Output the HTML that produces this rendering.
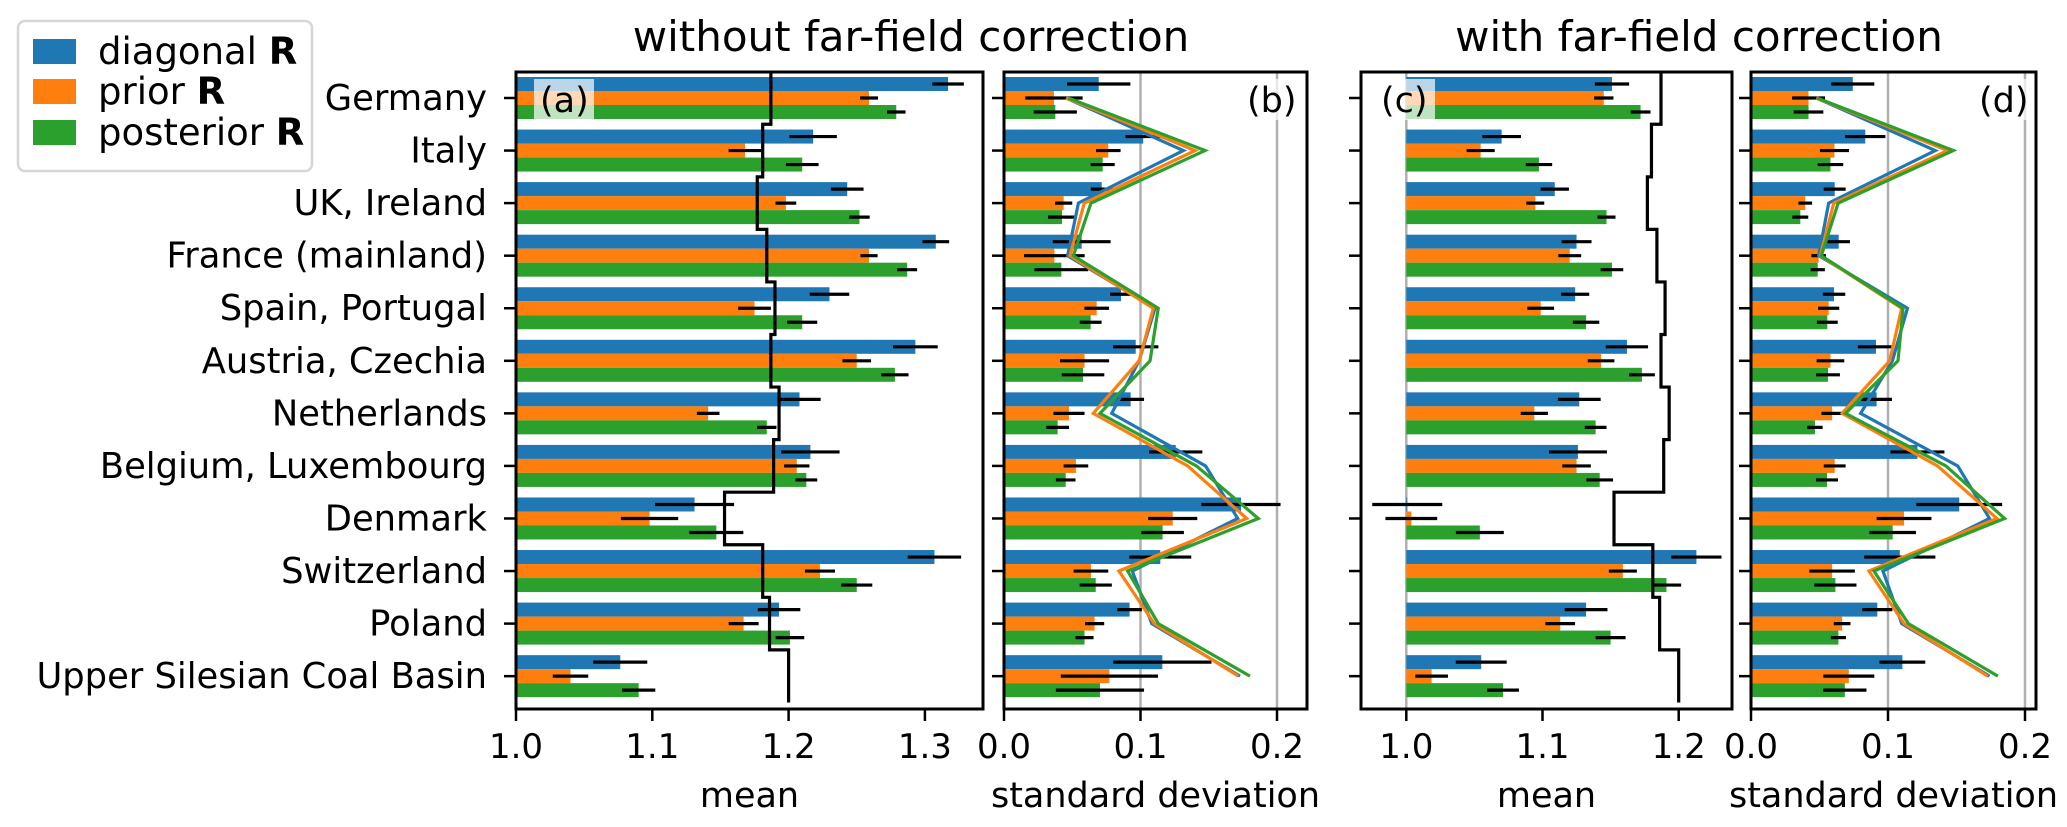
<!DOCTYPE html>
<html><head><meta charset="utf-8">
<style>
html,body{margin:0;padding:0;background:#fff;}
svg{display:block;font-family:"DejaVu Sans","Liberation Sans",sans-serif;}
</style></head>
<body>
<svg id="chart" width="2067" height="827" viewBox="0 0 2067 827" xmlns="http://www.w3.org/2000/svg">
  <rect x="0" y="0" width="2067" height="827" fill="#fff"/>
  <text x="911" y="51" font-size="42" text-anchor="middle">without far-field correction</text>
  <text x="1699" y="51" font-size="42" text-anchor="middle">with far-field correction</text>
  <g>
    <rect x="18" y="21" width="294" height="150" rx="7" fill="#fff" stroke="#d6d6d6" stroke-width="2.5"/>
    <rect x="33" y="39" width="43" height="25" fill="#1f77b4"/>
    <text x="98" y="64" font-size="37">diagonal <tspan font-weight="bold">R</tspan></text>
    <rect x="33" y="79" width="43" height="25" fill="#ff7f0e"/>
    <text x="98" y="104" font-size="37">prior <tspan font-weight="bold">R</tspan></text>
    <rect x="33" y="120" width="43" height="25" fill="#2ca02c"/>
    <text x="98" y="145" font-size="37">posterior <tspan font-weight="bold">R</tspan></text>
  </g>
</svg>
<script>
const categories = ["Germany","Italy","UK, Ireland","France (mainland)","Spain, Portugal","Austria, Czechia","Netherlands","Belgium, Luxembourg","Denmark","Switzerland","Poland","Upper Silesian Coal Basin"];
const seriesNames = ["diagonal","prior","posterior"];
const seriesColors = ["#1f77b4","#ff7f0e","#2ca02c"];

const meanA_diag = [1.317,1.218,1.243,1.308,1.230,1.293,1.208,1.216,1.131,1.307,1.193,1.0765];
const meanA_prior = [1.259,1.168,1.198,1.259,1.175,1.250,1.141,1.206,1.098,1.223,1.167,1.040];
const meanA_post = [1.279,1.210,1.252,1.287,1.210,1.278,1.184,1.213,1.147,1.250,1.201,1.090];
const errA_diag = [0.0116,0.0174,0.012,0.0098,0.0145,0.0164,0.0155,0.0214,0.029,0.0196,0.0156,0.0198];
const errA_prior = [0.0066,0.012,0.0076,0.0063,0.012,0.0105,0.0083,0.0093,0.021,0.011,0.011,0.013];
const errA_post = [0.0068,0.012,0.0075,0.0073,0.011,0.010,0.0071,0.008,0.0198,0.0114,0.0105,0.0122];
const stepA = [1.187,1.181,1.177,1.184,1.190,1.187,1.193,1.189,1.153,1.181,1.186,1.200];

const sdB_diag = [0.0694,0.102,0.0716,0.0569,0.0857,0.0965,0.0928,0.1258,0.1736,0.1145,0.092,0.116];
const sdB_prior = [0.0366,0.0764,0.0437,0.0369,0.0679,0.059,0.0476,0.0527,0.1236,0.0637,0.0664,0.0772];
const sdB_post = [0.0376,0.0723,0.0425,0.042,0.0635,0.0579,0.0393,0.0452,0.1162,0.0672,0.059,0.0703];
const errB_diag = [0.0232,0.013,0.008,0.0212,0.008,0.0166,0.0098,0.0195,0.029,0.0227,0.009,0.036];
const errB_prior = [0.021,0.009,0.0063,0.0222,0.009,0.018,0.0114,0.009,0.018,0.0127,0.007,0.0356];
const errB_post = [0.0158,0.0088,0.0103,0.0197,0.008,0.0156,0.0083,0.0072,0.0156,0.0118,0.0066,0.0323];
const lineB_diag = [0.0454,0.1314,0.0545,0.0466,0.1106,0.099,0.0789,0.1477,0.1712,0.094,0.1082,0.1729];
const lineB_prior = [0.0457,0.140,0.0588,0.0483,0.1094,0.099,0.0654,0.1346,0.1778,0.0842,0.1101,0.1717];
const lineB_post = [0.0471,0.1473,0.0637,0.0508,0.113,0.107,0.0703,0.141,0.1863,0.0906,0.113,0.1802];

const meanC_diag = [1.151,1.070,1.109,1.125,1.124,1.162,1.127,1.126,1.0007,1.213,1.132,1.055];
const meanC_prior = [1.145,1.0546,1.0947,1.120,1.0987,1.143,1.094,1.125,1.0037,1.159,1.113,1.0186];
const meanC_post = [1.172,1.0974,1.147,1.151,1.132,1.173,1.139,1.142,1.054,1.191,1.150,1.071];
const errC_diag = [0.0126,0.0142,0.0104,0.011,0.0103,0.0155,0.0157,0.0213,0.0257,0.0184,0.0157,0.0187];
const errC_prior = [0.0071,0.0103,0.0066,0.0084,0.0098,0.0098,0.010,0.0105,0.019,0.0103,0.0109,0.012];
const errC_post = [0.0073,0.0097,0.0066,0.0083,0.0097,0.0095,0.008,0.0098,0.0176,0.0108,0.011,0.0117];
const stepC = [1.187,1.180,1.177,1.184,1.190,1.187,1.193,1.189,1.1525,1.181,1.186,1.200];

const sdD_diag = [0.0743,0.0834,0.0611,0.064,0.0606,0.0912,0.0917,0.1215,0.152,0.1086,0.0922,0.1105];
const sdD_prior = [0.042,0.0609,0.0396,0.0494,0.0567,0.058,0.0592,0.0611,0.1117,0.0592,0.0665,0.0714];
const sdD_post = [0.042,0.058,0.036,0.0487,0.0557,0.0562,0.0467,0.0555,0.1034,0.0616,0.0638,0.0685];
const errD_diag = [0.0157,0.0147,0.008,0.0082,0.0082,0.0132,0.0112,0.0197,0.0313,0.026,0.011,0.0167];
const errD_prior = [0.012,0.0106,0.005,0.0053,0.0077,0.0101,0.0078,0.008,0.02,0.0166,0.0061,0.0186];
const errD_post = [0.0108,0.0093,0.0058,0.0052,0.0076,0.0087,0.0056,0.008,0.017,0.0154,0.0055,0.0158];
const lineD_diag = [0.0477,0.1345,0.0567,0.0494,0.1142,0.1032,0.0800,0.1509,0.1741,0.0963,0.1100,0.1741];
const lineD_prior = [0.0477,0.1435,0.0604,0.0506,0.1100,0.1012,0.0665,0.1362,0.1795,0.0861,0.1117,0.1729];
const lineD_post = [0.0482,0.1477,0.0636,0.0513,0.1110,0.1073,0.0690,0.1423,0.1851,0.0897,0.1149,0.1802];

const ticksA = [1.0,1.1,1.2,1.3];
const ticksB = [0.0,0.1,0.2];
const ticksC = [1.0,1.1,1.2];
const ticksD = [0.0,0.1,0.2];
const tickLabelsA = ["1.0","1.1","1.2","1.3"];
const tickLabelsB = ["0.0","0.1","0.2"];
const tickLabelsC = ["1.0","1.1","1.2"];
const tickLabelsD = ["0.0","0.1","0.2"];

const NS = "http://www.w3.org/2000/svg";
const svg = document.getElementById('chart');
const TOP = 72, BOTTOM = 709;
const Y0 = 98, DY = 52.56, BARH = 14.0;
function yCenter(i){ return Y0 + i*DY; }
function mk(tag, attrs, parent){
  const e = document.createElementNS(NS, tag);
  for (const k in attrs) e.setAttribute(k, attrs[k]);
  (parent||svg).appendChild(e);
  return e;
}

function panel(cfg){
  const g = mk('g', {});
  
  
  const xs = v => cfg.x0 + (v - cfg.v0) * cfg.scale;
  cfg.grid.forEach(gv => {
    const l = mk('line', {x1:xs(gv), x2:xs(gv), y1:TOP, y2:BOTTOM, stroke:'#b0b0b0', 'stroke-width':2.5}, g);
    
    
  });
  cfg.vals.forEach((arr, s) => {
    arr.forEach((v, i) => {
      const yc = yCenter(i) + (s-1)*BARH;
      const a = xs(cfg.base), b = xs(v);
      const r = mk('rect', {x:Math.min(a,b), y:yc-BARH/2, width:Math.abs(b-a), height:BARH, fill:seriesColors[s]}, g);
      
      
    });
  });
  if (cfg.step){
    let d = '';
    cfg.step.forEach((v, i) => {
      const x = xs(v), y1 = yCenter(i) - DY/2, y2 = yCenter(i) + DY/2;
      d += (i===0 ? 'M' : 'L') + x + ' ' + y1 + ' L' + x + ' ' + y2 + ' ';
    });
    const p = mk('path', {d:d, fill:'none', stroke:'#000', 'stroke-width':3.2}, g);
    
    
  }
  cfg.errs.forEach((arr, s) => {
    arr.forEach((e, i) => {
      const v = cfg.vals[s][i];
      const yc = yCenter(i) + (s-1)*BARH;
      const l = mk('line', {x1:xs(v-e), x2:xs(v+e), y1:yc, y2:yc, stroke:'#000', 'stroke-width':3.2}, g);
      
      
    });
  });
  if (cfg.lines){
    cfg.lines.forEach((arr, s) => {
      const pts = arr.map((v, i) => xs(v) + ',' + yCenter(i)).join(' ');
      const pl = mk('polyline', {points:pts, fill:'none', stroke:seriesColors[s], 'stroke-width':3.2, 'stroke-linejoin':'miter'}, g);
      
      
    });
  }
  const fr = mk('rect', {x:cfg.left, y:TOP, width:cfg.right-cfg.left, height:BOTTOM-TOP, fill:'none', stroke:'#000', 'stroke-width':3}, g);
  
  
  categories.forEach((c, i) => {
    const t = mk('line', {x1:cfg.left-12, x2:cfg.left, y1:yCenter(i), y2:yCenter(i), stroke:'#000', 'stroke-width':2.5}, g);
    
    
  });
  cfg.ticks.forEach((tv, k) => {
    const x = xs(tv);
    const t = mk('line', {x1:x, x2:x, y1:BOTTOM, y2:BOTTOM+12, stroke:'#000', 'stroke-width':2.5}, g);
    
    
    const tl = mk('text', {x:x, y:758, 'font-size':34, 'text-anchor':'middle'}, g);
    tl.textContent = cfg.tickLabels[k];
    
    
  });
  const xl = mk('text', {x:(cfg.left+cfg.right)/2, y:807, 'font-size':35, 'text-anchor':'middle'}, g);
  xl.textContent = cfg.xlabel;
  
  
  const bx = cfg.letterX;
  const br = mk('rect', {x:bx-6, y:79, width:60, height:41, fill:'#fff', 'fill-opacity':0.7}, g);
  
  
  const lt = mk('text', {x:bx, y:112, 'font-size':35}, g);
  lt.textContent = cfg.letter;
  
  
}

panel({name:'panel-a-mean-without', x0:516, v0:1.0, scale:1363, left:516, right:983, base:1.0,
  grid:[], vals:[meanA_diag,meanA_prior,meanA_post], errs:[errA_diag,errA_prior,errA_post], step:stepA,
  ticks:ticksA, tickLabels:tickLabelsA, xlabel:'mean', letter:'(a)', letterX:540});
panel({name:'panel-b-sd-without', x0:1004, v0:0.0, scale:1365, left:1004, right:1307, base:0.0,
  grid:[0.1,0.2], vals:[sdB_diag,sdB_prior,sdB_post], errs:[errB_diag,errB_prior,errB_post],
  lines:[lineB_diag,lineB_prior,lineB_post],
  ticks:ticksB, tickLabels:tickLabelsB, xlabel:'standard deviation', letter:'(b)', letterX:1247});
panel({name:'panel-c-mean-with', x0:1406.3, v0:1.0, scale:1362, left:1361, right:1732, base:1.0,
  grid:[1.0], vals:[meanC_diag,meanC_prior,meanC_post], errs:[errC_diag,errC_prior,errC_post], step:stepC,
  ticks:ticksC, tickLabels:tickLabelsC, xlabel:'mean', letter:'(c)', letterX:1381});
panel({name:'panel-d-sd-with', x0:1751, v0:0.0, scale:1370, left:1751, right:2036, base:0.0,
  grid:[0.1,0.2], vals:[sdD_diag,sdD_prior,sdD_post], errs:[errD_diag,errD_prior,errD_post],
  lines:[lineD_diag,lineD_prior,lineD_post],
  ticks:ticksD, tickLabels:tickLabelsD, xlabel:'standard deviation', letter:'(d)', letterX:1979});

categories.forEach((c, i) => {
  const t = mk('text', {x:487, y:yCenter(i)+12, 'font-size':35.3, 'text-anchor':'end'});
  t.textContent = c;
  
  
});
</script>
</body></html>
